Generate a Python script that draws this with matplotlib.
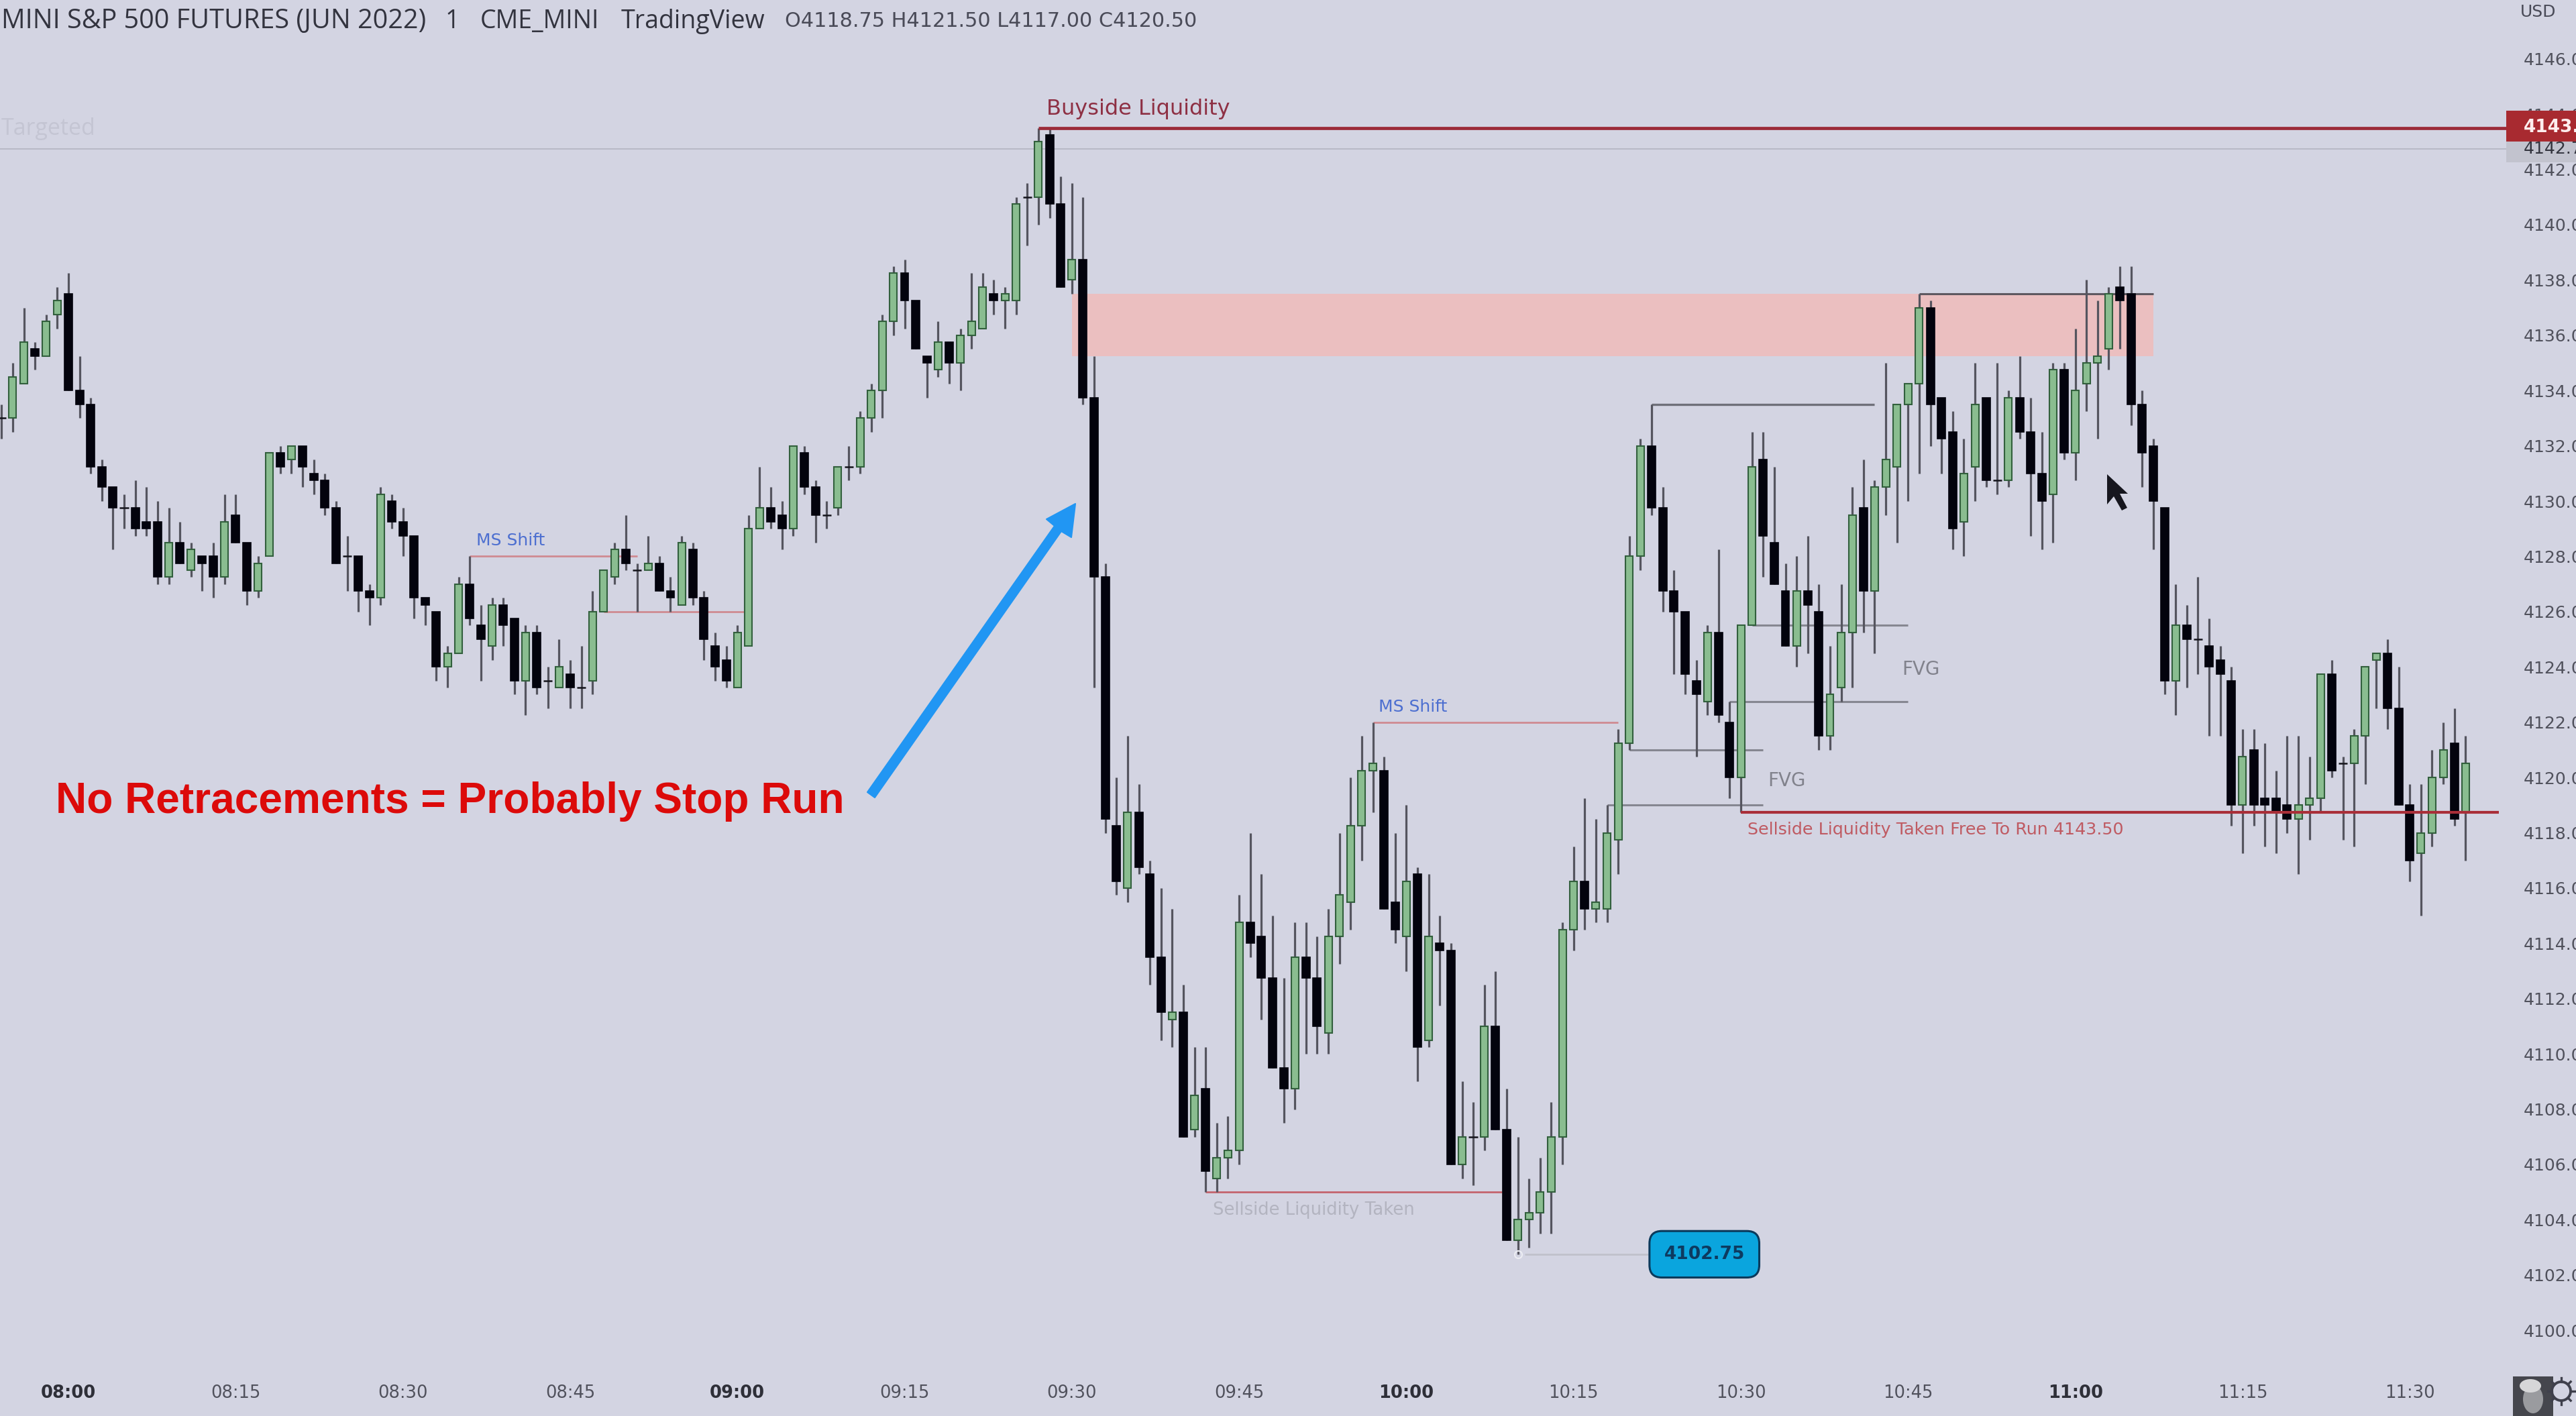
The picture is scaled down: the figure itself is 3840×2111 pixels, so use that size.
import numpy as np
import matplotlib
matplotlib.use("Agg")
import matplotlib.pyplot as plt
from matplotlib.patches import Rectangle, Polygon, Ellipse
from matplotlib.transforms import Affine2D, blended_transform_factory

# minute index relative to 08:00
first_bar = -6
highs = [
 4133.5,4135,4137,4135.75,4136.75,4137.75,4138.25,4135.25,4133.75,4131.5,
 4130.5,4130.25,4130.75,4130.5,4130,4129.75,4129.25,4128.5,4128,4128.5,
 4130.25,4130.25,4128.5,4128,4131.75,4132,4132,4132,4131.5,4131,
 4130,4128.75,4128,4127,4130.5,4130.25,4129.75,4128.75,4126.5,4126,
 4124.75,4127.25,4128,4126.25,4126.5,4126.5,4125.75,4125.5,4125.5,4124,
 4125,4124.25,4124.75,4126.75,4127.5,4128.5,4129.5,4127.75,4128.75,4128,
 4127.25,4128.75,4128.5,4126.75,4125.25,4124.75,4125.5,4129.5,4131.25,4130.5,
 4130,4132,4132,4130.75,4130,4131.25,4132,4133.25,4134.25,4136.75,
 4138.5,4138.75,4137.25,4135.25,4136.5,4135.75,4136.25,4138.25,4138.25,4138,
 4137.75,4141,4141.5,4143.5,4143.5,4141.75,4141.5,4141,4135.25,4127.75,
 4120,4121.5,4119.75,4117,4116,4115.25,4112.5,4110.25,4110.25,4107.5,
 4107.75,4115.75,4118,4116.5,4115,4112.75,4114.75,4114.75,4114.25,4115.25,
 4118,4120,4121.5,4122,4120.75,4118,4119,4116.75,4116.5,4115,
 4114,4109,4108.25,4112.5,4113,4108.75,4107,4105.5,4106.25,4108.25,
 4114.75,4117.5,4119.25,4118.5,4119,4121.75,4128.75,4132.25,4133.5,4130.5,
 4127.5,4126,4124.25,4125.5,4128.25,4122.75,4125.5,4132.5,4132.5,4131.25,
 4127.75,4128,4128.75,4127,4124.75,4127,4130.5,4131.5,4130.75,4135,
 4133.5,4134.25,4137.5,4137.25,4133.75,4133.25,4132.25,4135,4133.75,4135,
 4134,4135.25,4133.75,4132.5,4135,4135,4136.25,4138,4137.25,4137.75,
 4138.5,4138.5,4134,4132.25,4129.75,4127,4126.25,4127.25,4125.75,4124.75,
 4124,4121.75,4121.75,4121.25,4120.25,4121.5,4121.5,4120.75,4123.75,4124.25,
 4120.75,4121.75,4124,4124.5,4125,4124,4119.75,4119.75,4121,4122,4122.5,4121.5,
]
body_tops = [
 4133,4134.5,4135.75,4135.5,4136.5,4137.25,4137.5,4134,4133.5,4131.25,
 4130.5,4129.75,4129.75,4129.25,4129.25,4128.5,4128.5,4128.25,4128,4128,
 4129.25,4129.5,4128.5,4127.75,4131.75,4131.75,4132,4132,4131,4130.75,
 4129.75,4128,4128,4126.75,4130.25,4130,4129.25,4128.75,4126.5,4126,
 4124.5,4127,4127,4125.5,4126.25,4126.25,4125.75,4125.25,4125.25,4123.5,
 4124,4123.75,4123.25,4126,4127.5,4128.25,4128.25,4127.5,4127.75,4127.75,
 4126.75,4128.5,4128.25,4126.5,4124.75,4124.25,4125.25,4129,4129.75,4129.75,
 4129.5,4132,4131.75,4130.5,4129.5,4131.25,4131.25,4133,4134,4136.5,
 4138.25,4138.25,4137.25,4135.25,4135.75,4135.75,4136,4136.5,4137.75,4137.5,
 4137.5,4140.75,4141,4143,4143.25,4140.75,4138.75,4138.75,4133.75,4127.25,
 4118.25,4118.75,4118.75,4116.5,4113.5,4111.5,4111.5,4108.5,4108.75,4106.25,
 4106.5,4114.75,4114.75,4114.25,4112.75,4109.5,4113.5,4113.5,4112.75,4114.25,
 4115.75,4118.25,4120.25,4120.5,4120.25,4115.5,4116.25,4116.5,4114.25,4114,
 4113.75,4107,4107,4111,4111,4107.25,4104,4104.25,4105,4107,
 4114.5,4116.25,4116.25,4115.5,4118,4121.25,4128,4132,4132,4129.75,
 4126.75,4126,4123.5,4125.25,4125.25,4122,4125.5,4131.25,4131.5,4128.5,
 4126.75,4126.75,4126.75,4126,4123,4125.25,4129.5,4129.75,4130.5,4131.5,
 4133.5,4134.25,4137,4137,4133.75,4132.5,4131,4133.5,4133.75,4130.75,
 4133.75,4133.75,4132.5,4131,4134.75,4134.75,4134,4135,4135.25,4137.5,
 4137.75,4137.5,4133.5,4132,4129.75,4125.5,4125.5,4125,4124.75,4124.25,
 4123.5,4120.75,4121,4119.25,4119.25,4119,4119,4119.25,4123.75,4123.75,
 4120.5,4121.5,4124,4124.5,4124.5,4122.5,4119,4118,4120,4121,4121.25,4120.5,
]
body_bottoms = [
 4133,4133,4134.25,4135.25,4135.25,4136.75,4134,4133.5,4131.25,4130.5,
 4129.75,4129.75,4129,4129,4127.25,4127.25,4127.75,4127.5,4127.75,4127.25,
 4127.25,4128.5,4126.75,4126.75,4128,4131.25,4131.5,4131.25,4130.75,4129.75,
 4127.75,4128,4126.75,4126.5,4126.5,4129.25,4128.75,4126.5,4126.25,4124,
 4124,4124.5,4125.75,4125,4124.75,4125.5,4123.5,4123.5,4123.25,4123.5,
 4123.25,4123.25,4123.25,4123.5,4126,4127.25,4127.75,4127.5,4127.5,4126.75,
 4126.5,4126.25,4126.5,4125,4124,4123.5,4123.25,4124.75,4129,4129.25,
 4129,4129,4130.5,4129.5,4129.5,4129.75,4131.25,4131.25,4133,4134,
 4136.5,4137.25,4135.5,4135,4134.75,4135,4135,4136,4136.25,4137.25,
 4137.25,4137.25,4141,4141,4140.75,4137.75,4138,4133.75,4127.25,4118.5,
 4116.25,4116,4116.75,4113.5,4111.5,4111.25,4107,4107.25,4105.75,4105.5,
 4106.25,4106.5,4114,4112.75,4109.5,4108.75,4108.75,4112.75,4111,4110.75,
 4114.25,4115.5,4118.25,4120.25,4115.25,4114.5,4114.25,4110.25,4110.5,4113.75,
 4106,4106,4107,4107,4107.25,4103.25,4103.25,4104,4104.25,4105,
 4107,4114.5,4115.25,4115.25,4115.25,4117.75,4121.25,4128,4129.75,4126.75,
 4126,4123.75,4123,4122.75,4122.25,4120,4120,4125.5,4128.75,4127,
 4124.75,4124.75,4126.25,4121.5,4121.5,4123.25,4125.25,4126.75,4126.75,4130.5,
 4131.25,4133.5,4134.25,4133.5,4132.25,4129,4129.25,4131.25,4130.75,4130.75,
 4130.75,4132.5,4131,4130,4130.25,4131.75,4131.75,4134.25,4135,4135.5,
 4137.25,4133.5,4131.75,4130,4123.5,4123.5,4125,4125,4124,4123.75,
 4119,4119,4119,4119,4118.75,4118.5,4118.5,4119,4119.25,4120.25,
 4120.5,4120.5,4121.5,4124.25,4122.5,4119,4117,4117.25,4118,4120,4118.5,4118.75,
]
lows = [
 4132.25,4132.5,4134.25,4134.75,4135.25,4136.25,4134,4133,4131,4130,
 4128.25,4129,4128.75,4128.75,4127,4127,4127.75,4127.25,4126.75,4126.5,
 4127,4128.5,4126.25,4126.5,4128,4131,4131,4130.5,4130.25,4129.5,
 4127.75,4126.75,4126,4125.5,4126.25,4129,4128,4125.75,4125.5,4123.5,
 4123.25,4124.5,4125.5,4123.5,4124.25,4124.75,4123,4122.25,4123,4122.5,
 4123.25,4122.5,4122.5,4123,4126,4127,4127.5,4126,4127.5,4126.75,
 4126,4126.25,4126.25,4124.25,4123.5,4123.25,4123.25,4124.75,4129,4129,
 4128.25,4128.75,4130.25,4128.5,4129,4129.5,4130.75,4131,4132.5,4133,
 4136,4136.25,4135.5,4133.75,4134.5,4134.25,4134,4135.5,4136.25,4136.75,
 4136.25,4136.75,4139.25,4140,4140.25,4137.75,4137.5,4133.5,4123.25,4118,
 4115.75,4115.5,4116.5,4112.5,4110.5,4110.25,4107,4107,4105,4105,
 4105.5,4106,4113.5,4111.25,4109.5,4107.5,4108,4110,4110,4110,
 4113.25,4114.5,4117,4118.75,4115.25,4114,4113,4109,4110.25,4111.75,
 4106,4105.5,4105.25,4106.5,4107.25,4103.25,4102.75,4103,4103.5,4103.5,
 4106,4113.75,4114.5,4114.75,4114.75,4116.5,4121,4127.5,4129.5,4126,
 4123.75,4123,4120.75,4122.25,4122,4119.25,4118.75,4125.5,4127.25,4127,
 4124.75,4124,4124.5,4121,4121,4122.75,4123.25,4125.25,4124.5,4129.5,
 4128.5,4130,4131,4132,4131,4128.25,4128,4130,4130.5,4130.25,
 4130.5,4132.25,4128.75,4128.25,4128.5,4131.5,4130.75,4133.25,4132.25,4134.75,
 4135.5,4132.75,4130.5,4128.25,4123,4122.25,4123.25,4123.75,4121.5,4121.5,
 4118.25,4117.25,4118.25,4117.5,4117.25,4118,4116.5,4117.75,4118.75,4120,
 4117.75,4117.5,4119.75,4122.5,4121.75,4119,4116.25,4115,4117.5,4119.75,4118.25,4117,
]
direction = (
 "DGGBGGBBBB" "BDBBBGBGBB" "GBBGGBGBBB" "BDBBGBBBBB"
 "GGBBGBBGBD" "GBDGGGBDGB" "BGBBBBGGGB" "BGBBDGDGGG"
 "GBBBGBGGGB" "GGDGBBGBBB" "BGBBBGBGBG" "GGBBBBGBBG"
 "GGGGBBGBGB" "BGDGBBGGGG" "GGBGGGGGBB" "BBBGBBGGBB"
 "BGBBGGGBGG" "GGGBBBGGBD" "GBBBGBGGGG" "BBBBBGBDBB"
 "BGBBBBGGGB" "DGGGBBBGGGBG"
)

time_labels = ["08:00","08:15","08:30","08:45","09:00","09:15","09:30","09:45",
               "10:00","10:15","10:30","10:45","11:00","11:15","11:30"]
price_ticks = list(range(4100, 4148, 2))

buyside = 4143.5
last_close = 4120.5
swing_low = 4102.75
sellside_run = 4118.75
zone_top, zone_bottom = 4137.5, 4135.25

assert len(highs) == len(body_tops) == len(body_bottoms) == len(lows) == len(direction) == 222

W, H = 3840, 2111
BG = "#d3d4e2"
fig = plt.figure(figsize=(W/100, H/100), dpi=100, facecolor=BG)
ax = fig.add_axes([0, 1-2045/H, 3736/W, 2045/H], facecolor=BG)
for s in ax.spines.values():
    s.set_visible(False)
ax.set_xlim(-6.137, 218.65)
ax.set_ylim(4098.5, 4148.13)

bars = np.arange(first_bar, first_bar + len(highs))
hi, lo = np.array(highs), np.array(lows)
top, bot = np.array(body_tops), np.array(body_bottoms)
d = np.array(list(direction))

# wicks
ax.vlines(bars, lo, hi, color="#55555f", lw=2.3, zorder=3)
# bodies
g = d == "G"; b = d == "B"; n = d == "D"
ax.bar(bars[g], (top-bot)[g], bottom=bot[g], width=0.66, facecolor="#8abd90",
       edgecolor="#32603d", linewidth=1.5, zorder=4)
ax.bar(bars[b], (top-bot)[b], bottom=bot[b], width=0.72, facecolor="#03030d",
       edgecolor="#03030d", linewidth=1.2, zorder=4)
ax.hlines(top[n], bars[n]-0.4, bars[n]+0.4, color="#15151c", lw=1.8, zorder=4)

# axes
ax.set_xticks(np.arange(0, 15*len(time_labels), 15))
ax.set_xticklabels(time_labels)
ax.xaxis.set_tick_params(length=0, pad=13.5, labelsize=18.5, labelcolor="#50515c")
for lab in ax.get_xticklabels():
    if lab.get_text().endswith(":00"):
        lab.set_fontweight("bold"); lab.set_color("#2e2f38")
ax.yaxis.tick_right()
ax.set_yticks(price_ticks)
ax.set_yticklabels([f"{p:.2f}" for p in price_ticks])
ax.yaxis.set_tick_params(length=0, pad=18.5, labelsize=18, labelcolor="#50515c")

# pink zone
ax.fill_between([90, 187], zone_bottom, zone_top, color="#ebbfc0", lw=0, zorder=1)
ax.hlines(zone_top, 166, 187, color="#5e5860", lw=2.2, zorder=2)

# levels
ax.hlines(4142.75, first_bar-1, 219, color="#b3b4c1", lw=1.2, zorder=1.5)
ax.hlines(buyside, 87, 219, color="#9c2a38", lw=3.4, zorder=5)
ax.hlines(sellside_run, 150, 218, color="#a92e38", lw=3.0, zorder=5)
pink = "#cf8a92"
ax.hlines(4128, 36, 51, color=pink, lw=2, zorder=2)
ax.hlines(4126, 48, 60.7, color=pink, lw=2, zorder=2)
ax.hlines(4122, 117, 139, color=pink, lw=2, zorder=2)
ax.hlines(4105, 102, 128.6, color="#c4646e", lw=2, zorder=2)
ax.hlines(4133.5, 142, 162, color="#6f7079", lw=2.4, zorder=2)
ax.vlines(142, 4132, 4133.5, color="#6f7079", lw=2.2, zorder=2)
for lvl, x0, x1 in [(4125.5, 151, 165), (4122.75, 149, 165), (4121, 140, 152), (4119, 138, 152)]:
    ax.hlines(lvl, x0, x1, color="#868791", lw=2.2, zorder=2)

# swing-low leader
ax.hlines(swing_low, 130.6, 142.2, color="#c0c1cb", lw=2, zorder=2)
ax.plot([130], [swing_low], "o", ms=8, mfc="none", mec="#ecedf3", mew=1.5, zorder=5)

# price tags over the axis
tr = blended_transform_factory(ax.transAxes, ax.transData)
ax.add_patch(Rectangle((1, 4143.0), 0.03, 1.13, transform=tr, clip_on=False, fc="#a82a30", ec="none", zorder=6))
ax.add_patch(Rectangle((1, 4142.26), 0.03, 0.74, transform=tr, clip_on=False, fc="#c2c3ce", ec="none", zorder=6))

pix = Affine2D().scale(1, -1).translate(0, H)
def label(x, y, s, size, color, ha="left", weight="normal", family="DejaVu Sans", **kw):
    return ax.text(x, y, s, transform=pix, fontsize=size, color=color, ha=ha, va="center",
                   fontweight=weight, family=family, clip_on=False, zorder=8, **kw)

label(3762, 190, f"{buyside:.2f}", 19, "#ffeeee", weight="bold")
label(3762, 222, "4142.75", 18, "#33343e")
label(3757, 18, "USD", 18, "#4a4b58")

label(2, 32, "MINI S&P 500 FUTURES (JUN 2022)", 28.5, "#33343f", family="Open Sans")
label(664, 32, "1", 27, "#33343f", family="Open Sans")
label(716, 32, "CME_MINI", 27, "#33343f", family="Open Sans")
label(926, 32, "TradingView", 27, "#33343f", family="Open Sans")
label(1170, 32, "O4118.75 H4121.50 L4117.00 C4120.50", 21.8, "#4a4b58", family="DejaVu Sans")
label(2, 192, "Targeted", 24.5, "#c4c5d3", family="Open Sans")

label(1560, 163, "Buyside Liquidity", 23, "#8e3044")
label(710, 806, "MS Shift", 18, "#4d6fd0")
label(2055, 1054, "MS Shift", 18, "#4d6fd0")
label(1808, 1804, "Sellside Liquidity Taken", 18.6, "#b3b4c0")
label(2835, 998, "FVG", 20, "#81828c")
label(2635, 1164, "FVG", 20, "#81828c")
label(2605, 1237, "Sellside Liquidity Taken Free To Run 4143.50", 18.3, "#bf5a62")
label(83, 1195, "No Retracements = Probably Stop Run", 46.1, "#dc0a0a", weight="bold", family="Liberation Sans")

# value tag
ax.text(146.73, swing_low, f"{swing_low:.2f}", fontsize=19, fontweight="bold", color="#0d3a60",
        ha="center", va="center", zorder=8,
        bbox=dict(boxstyle="round,pad=0.82,rounding_size=0.7", fc="#0aa5de", ec="#0b3a5c", lw=2.2))

# arrow
ax.add_patch(Polygon([(1293,1181),(1572,784),(1560,774),(1603,751),(1597,801),(1582,792),(1304,1189)],
                     closed=True, transform=pix, fc="#2196f3", ec="#2196f3", lw=1.5, joinstyle="round", zorder=7))

# cursor
ax.add_patch(Polygon([(3141,707),(3141,752),(3151,740),(3163,761),(3171,757),(3160,736),(3172,736)],
                     closed=True, transform=pix, fc="#16161e", ec="none", zorder=9))

# corner widgets
def fx(v): return v/W
def fy(v): return 1-v/H
fig.add_artist(Rectangle((fx(3746), fy(2111)), 60/W, 59/H, transform=fig.transFigure, fc="#45464d", ec="none"))
fig.add_artist(Ellipse((fx(3776), fy(2086)), 30/W, 42/H, transform=fig.transFigure, fc="#9a9b9f", ec="none"))
fig.add_artist(Ellipse((fx(3772), fy(2066)), 32/W, 20/H, transform=fig.transFigure, fc="#d6d6d8", ec="none"))
fig.add_artist(Ellipse((fx(3818), fy(2074)), 28/W, 28/H, transform=fig.transFigure, fc="none", ec="#3f404c", lw=2.8))
for ang in np.arange(0, 360, 45):
    c, s = np.cos(np.radians(ang)), np.sin(np.radians(ang))
    fig.add_artist(plt.Line2D([fx(3818+14*c), fx(3818+20*c)], [fy(2074+14*s), fy(2074+20*s)],
                              transform=fig.transFigure, color="#3f404c", lw=2.4))

fig.savefig("out.png", dpi=100, facecolor=BG)
